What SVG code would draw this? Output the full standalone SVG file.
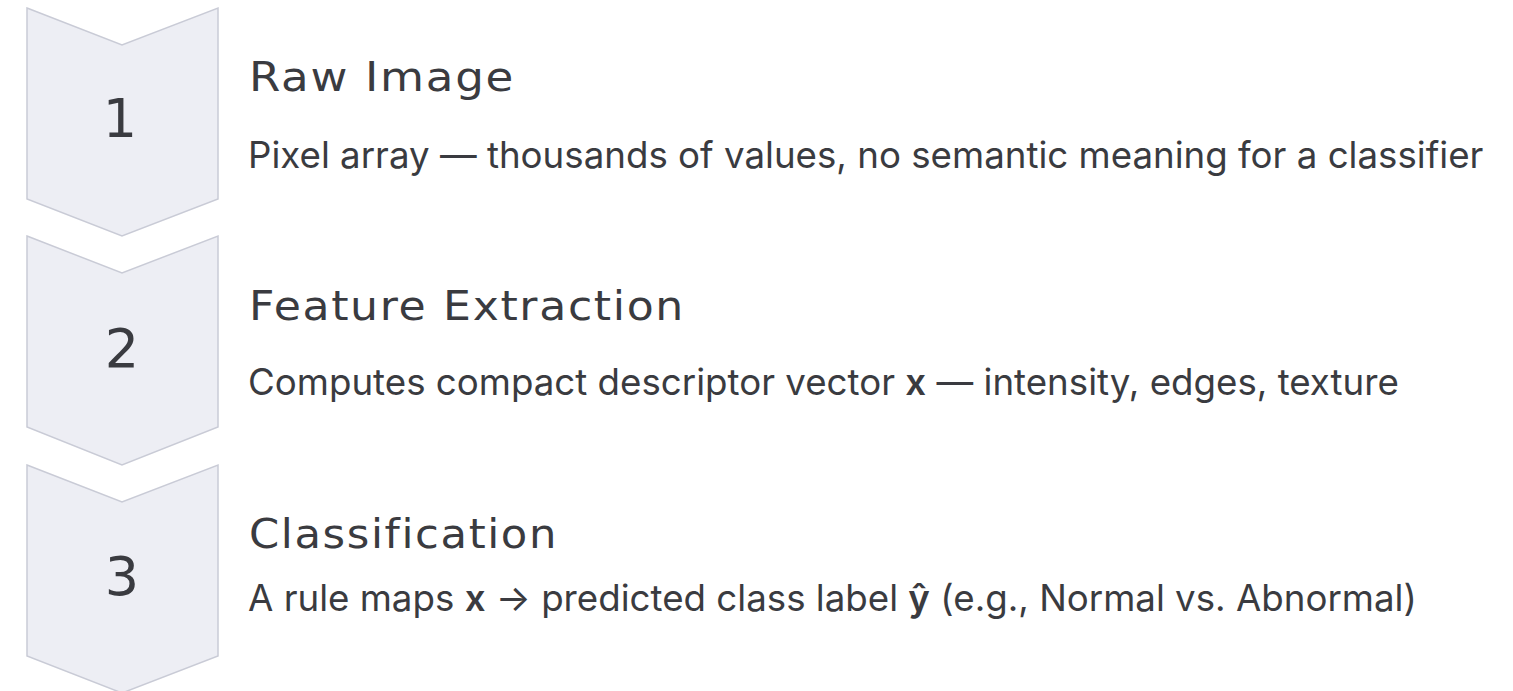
<svg xmlns="http://www.w3.org/2000/svg" width="1513" height="691" viewBox="0 0 1513 691">
<style>
.chev{fill:#edeef4;stroke:#c9cbd6;stroke-width:1.5}
.num{font-family:"DejaVu Sans","Noto Sans",sans-serif;font-size:54px;fill:#3a3b40;text-anchor:middle}
.title{font-family:"DejaVu Sans","Noto Sans",sans-serif;font-size:40px;fill:#3a3b40;letter-spacing:1.5px}
.desc{font-family:Inter,"Liberation Sans",sans-serif;font-size:36.7px;fill:#3a3b40}
.b{font-weight:600}
</style>
<rect width="1513" height="691" fill="#ffffff"/>
<g id="step1">
<path class="chev" d="M27 8 L122 45 L218 8 L218 199 L122 236 L27 199 Z"/>
<text class="num" x="120" y="137">1</text>
<text class="title" x="249" y="91" textLength="266" lengthAdjust="spacingAndGlyphs">Raw Image</text>
<text class="desc" x="248" y="168">Pixel array — thousands of values, no semantic meaning for a classifier</text>
</g>
<g id="step2">
<path class="chev" d="M27 236 L122 273 L218 236 L218 427 L122 465 L27 427 Z"/>
<text class="num" x="122" y="367">2</text>
<text class="title" x="249" y="320" textLength="436" lengthAdjust="spacingAndGlyphs">Feature Extraction</text>
<text class="desc" x="248" y="395">Computes compact descriptor vector <tspan class="b">x</tspan> — intensity, edges, texture</text>
</g>
<g id="step3">
<path class="chev" d="M27 465 L122 502 L218 465 L218 656 L122 693 L27 656 Z"/>
<text class="num" x="122" y="595">3</text>
<text class="title" x="249" y="548" textLength="309" lengthAdjust="spacingAndGlyphs">Classification</text>
<text class="desc" x="248" y="611">A rule maps <tspan class="b">x</tspan> → predicted class label <tspan class="b">ŷ</tspan> (e.g., Normal vs. Abnormal)</text>
</g>
<g id="connectors"></g>
</svg>
